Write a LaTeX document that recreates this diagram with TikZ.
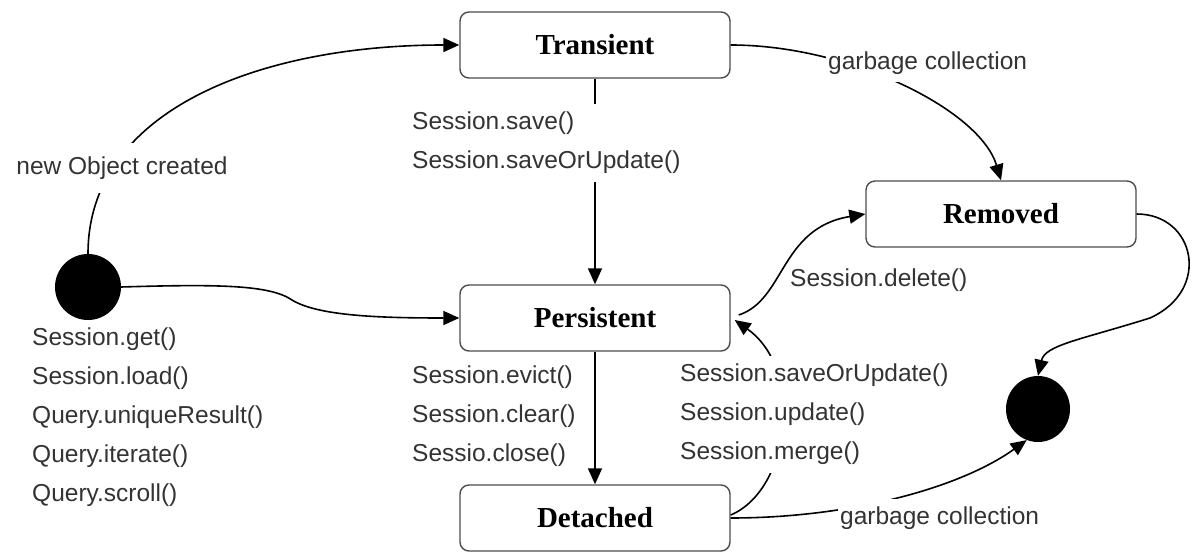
\documentclass[tikz,border=0pt]{standalone}
\usepackage{fontspec}
\setmainfont{Liberation Serif}
\setsansfont{Liberation Sans}
\usetikzlibrary{arrows.meta,shapes.geometric}
\begin{document}
\begin{tikzpicture}[x=1pt,y=-1pt,
 state/.style={draw=black!70, line width=1.4pt, rounded corners=9pt, minimum width=270pt, minimum height=66pt, font=\fontsize{29}{34}\selectfont\bfseries, inner sep=0},
 lbl/.style={font=\sffamily\fontsize{24.5}{39}\selectfont, text=black!80, align=left, inner sep=0},
 wl/.style={lbl, fill=white, inner xsep=2pt, inner ysep=8pt},
 conn/.style={line width=1.6pt, -{Triangle[length=16pt,width=14pt]}},
 dot/.style={circle, fill=black, minimum size=66pt, inner sep=0}
]
\useasboundingbox (0,0) rectangle (1204,553);
\node[state] (tr) at (595,45) {Transient};
\node[state] (rm) at (1001,214) {Removed};
\node[state] (pe) at (595,318) {Persistent};
\node[state] (de) at (595,518) {Detached};
\node[dot] (init) at (88,287) {};
\node[dot, ellipse, minimum width=64pt, minimum height=66pt] (fin) at (1038,409) {};

\draw[conn] (init.north) .. controls (88,110) and (260,45) .. (tr.west);
\node[wl, inner ysep=14pt] (lnew) at (122,168) {new Object created};

\draw[conn] (init.east) .. controls (220,284) and (270,285) .. (292,300) .. controls (318,316) and (380,318) .. (pe.west);

\draw[conn] (tr.south) -- (pe.north);
\node[wl, anchor=north west] (lsave) at (410,104) {Session.save()\\Session.saveOrUpdate()};

\draw[conn] (tr.east) .. controls (850,45) and (980,110) .. (rm.north);
\node[wl, anchor=west] (lgc1) at (826,63) {garbage collection};

\draw[conn] ([xshift=8pt,yshift=3pt]pe.east) .. controls (785,300) and (780,228) .. (rm.west);
\node[wl, inner ysep=2pt, anchor=west] (ldel) at (788,280) {Session.delete()};

\draw[conn] ([yshift=3pt]de.east) .. controls (790,490) and (805,370) .. ([xshift=4pt,yshift=-2pt]pe.east);
\node[wl, anchor=north west] (lupd) at (678,356) {Session.saveOrUpdate()\\Session.update()\\Session.merge()};

\draw[conn] (pe.south) -- (de.north);
\node[lbl, anchor=north west] (levict) at (412,366) {Session.evict()\\Session.clear()\\Sessio.close()};

\node[lbl, anchor=north west] (lget) at (32,328) {Session.get()\\Session.load()\\Query.uniqueResult()\\Query.iterate()\\Query.scroll()};

\draw[conn] (rm.east) .. controls (1195,214) and (1212,290) .. (1150,318) .. controls (1080,340) and (1045,345) .. (fin.north);

\draw[conn] (de.east) .. controls (850,518) and (960,488) .. (fin.250);
\node[wl, anchor=west] (lgc2) at (838,518) {garbage collection};
\end{tikzpicture}
\end{document}
